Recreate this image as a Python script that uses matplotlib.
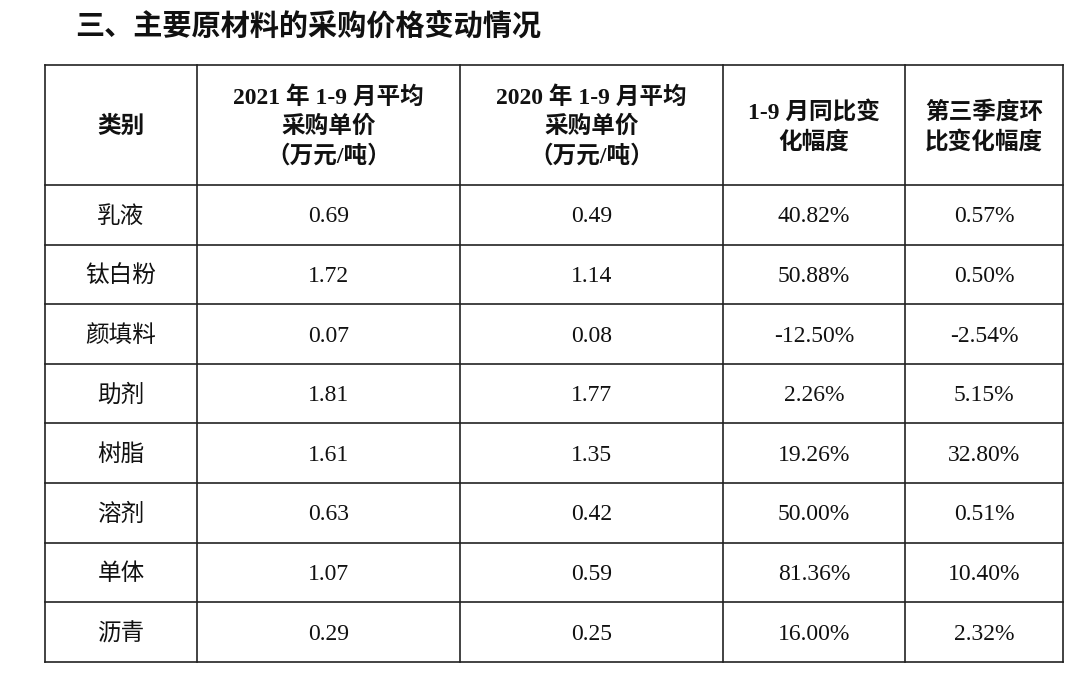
import matplotlib
matplotlib.use("Agg")
import matplotlib.pyplot as plt

title = "三、主要原材料的采购价格变动情况"
headers = ["类别", "2021 年 1-9 月平均\n采购单价\n（万元/吨）", "2020 年 1-9 月平均\n采购单价\n（万元/吨）",
           "1-9 月同比变\n化幅度", "第三季度环\n比变化幅度"]
categories = ["乳液", "钛白粉", "颜填料", "助剂", "树脂", "溶剂", "单体", "沥青"]
price_2021 = ["0.69", "1.72", "0.07", "1.81", "1.61", "0.63", "1.07", "0.29"]
price_2020 = ["0.49", "1.14", "0.08", "1.77", "1.35", "0.42", "0.59", "0.25"]
yoy = ["40.82%", "50.88%", "-12.50%", "2.26%", "19.26%", "50.00%", "81.36%", "16.00%"]
qoq = ["0.57%", "0.50%", "-2.54%", "5.15%", "32.80%", "0.51%", "10.40%", "2.32%"]

fam = ['Liberation Serif', 'Noto Sans CJK SC']
fig = plt.figure(figsize=(10.8, 6.75), dpi=100)
ax = fig.add_axes([0, 0, 1, 1])
ax.set_xlim(0, 1080); ax.set_ylim(675, 0); ax.axis('off')

ax.text(75, 26, title, fontsize=21, family=fam, weight='bold', va='center', ha='left', color='#111')

cols = [45, 197, 460, 723, 905, 1063]
rows = [65, 185] + [185 + 59.6 * (i + 1) for i in range(8)]
for x in cols:
    ax.plot([x, x], [rows[0], rows[-1]], color='#222', lw=1.2)
for y in rows:
    ax.plot([cols[0], cols[-1]], [y, y], color='#222', lw=1.2)

centers = [(cols[i] + cols[i + 1]) / 2 for i in range(5)]
for c, h in zip(centers, headers):
    ax.text(c, (rows[0] + rows[1]) / 2 + 2, h, fontsize=17, family=fam, weight='bold',
            ha='center', va='center', linespacing=1.4, color='#111')
for i in range(8):
    yc = (rows[i + 1] + rows[i + 2]) / 2 + 2
    vals = [categories[i], price_2021[i], price_2020[i], yoy[i], qoq[i]]
    for c, v in zip(centers, vals):
        ax.text(c, yc, v, fontsize=17, family=fam, ha='center', va='center', color='#111')

fig.savefig("out.png", dpi=100)
